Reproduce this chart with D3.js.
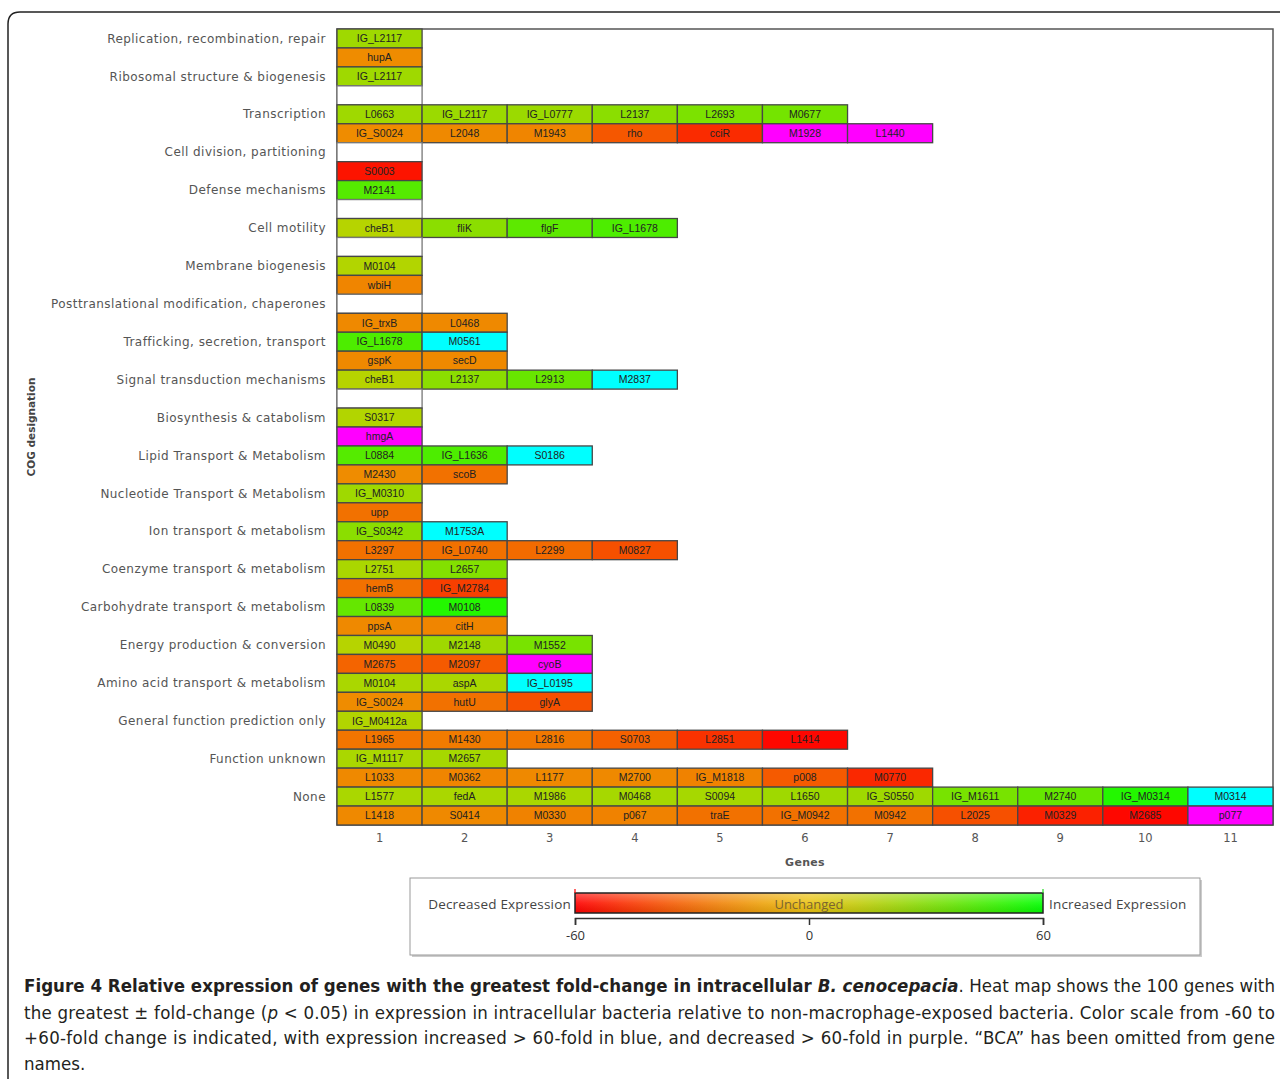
<!DOCTYPE html>
<html>
<head>
<meta charset="utf-8">
<script src="https://cdn.jsdelivr.net/npm/d3@7"></script>
<style>
  body { margin: 0; background: #fff; }
  svg { display: block; }
</style>
</head>
<body>
<script>
// COG categories, one label for every two rows of the heat map
var categories = [
  "Replication, recombination, repair",
  "Ribosomal structure & biogenesis",
  "Transcription",
  "Cell division, partitioning",
  "Defense mechanisms",
  "Cell motility",
  "Membrane biogenesis",
  "Posttranslational modification, chaperones",
  "Trafficking, secretion, transport",
  "Signal transduction mechanisms",
  "Biosynthesis & catabolism",
  "Lipid Transport & Metabolism",
  "Nucleotide Transport & Metabolism",
  "Ion transport & metabolism",
  "Coenzyme transport & metabolism",
  "Carbohydrate transport & metabolism",
  "Energy production & conversion",
  "Amino acid transport & metabolism",
  "General function prediction only",
  "Function unknown",
  "None"
];

// gene names per row (42 rows)
var geneRows = [
  ["IG_L2117"],
  ["hupA"],
  ["IG_L2117"],
  [],
  ["L0663", "IG_L2117", "IG_L0777", "L2137", "L2693", "M0677"],
  ["IG_S0024", "L2048", "M1943", "rho", "cciR", "M1928", "L1440"],
  [],
  ["S0003"],
  ["M2141"],
  [],
  ["cheB1", "fliK", "flgF", "IG_L1678"],
  [],
  ["M0104"],
  ["wbiH"],
  [],
  ["IG_trxB", "L0468"],
  ["IG_L1678", "M0561"],
  ["gspK", "secD"],
  ["cheB1", "L2137", "L2913", "M2837"],
  [],
  ["S0317"],
  ["hmgA"],
  ["L0884", "IG_L1636", "S0186"],
  ["M2430", "scoB"],
  ["IG_M0310"],
  ["upp"],
  ["IG_S0342", "M1753A"],
  ["L3297", "IG_L0740", "L2299", "M0827"],
  ["L2751", "L2657"],
  ["hemB", "IG_M2784"],
  ["L0839", "M0108"],
  ["ppsA", "citH"],
  ["M0490", "M2148", "M1552"],
  ["M2675", "M2097", "cyoB"],
  ["M0104", "aspA", "IG_L0195"],
  ["IG_S0024", "hutU", "glyA"],
  ["IG_M0412a"],
  ["L1965", "M1430", "L2816", "S0703", "L2851", "L1414"],
  ["IG_M1117", "M2657"],
  ["L1033", "M0362", "L1177", "M2700", "IG_M1818", "p008", "M0770"],
  ["L1577", "fedA", "M1986", "M0468", "S0094", "L1650", "IG_S0550", "IG_M1611", "M2740", "IG_M0314", "M0314"],
  ["L1418", "S0414", "M0330", "p067", "traE", "IG_M0942", "M0942", "L2025", "M0329", "M2685", "p077"]
];

var foldRows = [
  [19],
  [-18],
  [19],
  [],
  [19, 20, 20, 24, 28, 30],
  [-18, -19, -20, -34, -47, -75, -75],
  [],
  [-54],
  [38],
  [],
  [13, 24, 36, 40],
  [],
  [14],
  [-20],
  [],
  [-19, -19],
  [40, 75],
  [-19, -19],
  [13, 24, 33, 75],
  [],
  [14],
  [-75],
  [38, 40, 75],
  [-18, -26],
  [19],
  [-26],
  [24, 75],
  [-26, -26, -28, -36],
  [16, 26],
  [-26, -41],
  [34, 51],
  [-19, -20],
  [13, 19, 29],
  [-30, -33, -75],
  [16, 16, 75],
  [-18, -26, -36],
  [14],
  [-25, -23, -24, -31, -45, -58],
  [16, 17],
  [-19, -20, -19, -19, -21, -33, -48],
  [16, 16, 16, 17, 17, 19, 19, 29, 34, 51, 75],
  [-19, -19, -21, -21, -26, -26, -26, -36, -50, -58, -75]
];

var geneTicks = [1, 2, 3, 4, 5, 6, 7, 8, 9, 10, 11];
var legendTicks = [-60, 0, 60];

var width = 1280, height = 1079;

var svg = d3.select("body").append("svg")
    .attr("width", width)
    .attr("height", height);

var defs = svg.append("defs");

//outer figure frame (runs off the right and bottom edges)
svg.append("path")
    .attr("d", "M8,1090V24Q8,12 20,12H1295")
    .attr("fill", "none")
    .attr("stroke", "#222")
    .attr("stroke-width", 1.5);

var color = d3.scaleLinear()
    .domain([-60, 0, 60])
    .range(["#ff0000", "#e8c800", "#00ff00"])
    .clamp(true);

function cellFill(v) {
  if (v > 60) return "#00ffff";
  if (v < -60) return "#ff00ff";
  return color(v);
}

var x = d3.scaleBand()
    .domain(geneTicks)
    .range([337, 1273]);

var y = d3.scaleBand()
    .domain(d3.range(geneRows.length))
    .range([29, 825]);

// plot frame
svg.append("rect")
    .attr("x", 337).attr("y", 29)
    .attr("width", 1273 - 337).attr("height", 825 - 29)
    .attr("fill", "#fff")
    .attr("stroke", "#555")
    .attr("stroke-width", 1.5);

// flatten cells
var cells = [];
geneRows.forEach(function(row, r) {
  if (row.length === 0) {
    cells.push({row: r, col: 1, gene: "", value: null});
  }
  row.forEach(function(g, c) {
    cells.push({row: r, col: c + 1, gene: g, value: foldRows[r][c]});
  });
});

var cell = svg.append("g").attr("class", "cells")
  .selectAll("g")
  .data(cells)
  .enter().append("g");

cell.append("rect")
    .attr("x", function(d) { return x(d.col); })
    .attr("y", function(d) { return y(d.row); })
    .attr("width", x.bandwidth())
    .attr("height", y.bandwidth())
    .attr("fill", function(d) { return d.value === null ? "#fff" : cellFill(d.value); })
    .attr("stroke", function(d) { return d.value === null ? "#777" : "#474747"; })
    .attr("stroke-width", 1.3);

cell.append("text")
    .attr("x", function(d) { return x(d.col) + x.bandwidth() / 2; })
    .attr("y", function(d) { return y(d.row) + y.bandwidth() / 2; })
    .attr("dy", "0.36em")
    .attr("text-anchor", "middle")
    .attr("font-family", "'Liberation Sans', Arial, sans-serif")
    .attr("font-size", "10.5px")
    .attr("fill", "#222")
    .text(function(d) { return d.gene; });

// category labels
svg.append("g").selectAll("text")
    .data(categories)
    .enter().append("text")
    .attr("x", 326)
    .attr("y", function(d, i) { return y(i * 2) + y.bandwidth() / 2; })
    .attr("dy", "0.35em")
    .attr("text-anchor", "end")
    .attr("font-family", "'DejaVu Sans', Verdana, sans-serif")
    .attr("font-size", "12px")
    .attr("letter-spacing", "0.45px")
    .attr("fill", "#555")
    .text(function(d) { return d; });

svg.append("text")
    .attr("transform", "translate(35,427) rotate(-90)")
    .attr("text-anchor", "middle")
    .attr("font-family", "'DejaVu Sans', Verdana, sans-serif")
    .attr("font-weight", "bold")
    .attr("font-size", "10.5px")
    .attr("fill", "#444")
    .text("COG designation");

// gene column axis
var xAxis = svg.append("g")
    .attr("transform", "translate(0,830)")
    .call(d3.axisBottom(x).tickSize(0).tickPadding(4));
xAxis.select(".domain").remove();
xAxis.selectAll("text")
    .attr("font-family", "'DejaVu Sans', Verdana, sans-serif")
    .attr("font-size", "11.5px")
    .attr("fill", "#555");

svg.append("text")
    .attr("x", 805).attr("y", 866)
    .attr("text-anchor", "middle")
    .attr("font-family", "'DejaVu Sans', Verdana, sans-serif")
    .attr("font-weight", "bold")
    .attr("font-size", "11px")
    .attr("letter-spacing", "0.3px")
    .attr("fill", "#555")
    .text("Genes");

// legend box
svg.append("rect")
    .attr("x", 412).attr("y", 880).attr("width", 790).attr("height", 77)
    .attr("fill", "#ccc");
svg.append("rect")
    .attr("x", 410).attr("y", 878).attr("width", 790).attr("height", 77)
    .attr("fill", "#fff")
    .attr("stroke", "#999")
    .attr("stroke-width", 1);

var lx = d3.scaleLinear().domain([-60, 60]).range([575, 1043]);

var grad = defs.append("linearGradient").attr("id", "scaleGrad");
grad.selectAll("stop")
    .data(d3.range(0, 1.0001, 0.1))
    .enter().append("stop")
    .attr("offset", function(d) { return d; })
    .attr("stop-color", function(d) {
      return d3.interpolateRgb(color(-60 + d * 120), "#f0b040")(0.25 * (1 - Math.abs(d - 0.5) * 2));
    });

var gloss = defs.append("linearGradient").attr("id", "gloss")
    .attr("x1", 0).attr("y1", 0).attr("x2", 0).attr("y2", 1);
gloss.append("stop").attr("offset", 0).attr("stop-color", "#fff").attr("stop-opacity", 0.35);
gloss.append("stop").attr("offset", 0.5).attr("stop-color", "#fff").attr("stop-opacity", 0.1);
gloss.append("stop").attr("offset", 1).attr("stop-color", "#000").attr("stop-opacity", 0.08);

svg.append("rect")
    .attr("x", lx(-60)).attr("y", 893)
    .attr("width", lx(60) - lx(-60)).attr("height", 20)
    .attr("fill", "url(#scaleGrad)");
svg.append("rect")
    .attr("x", lx(-60)).attr("y", 893)
    .attr("width", lx(60) - lx(-60)).attr("height", 20)
    .attr("fill", "url(#gloss)")
    .attr("stroke", "#222")
    .attr("stroke-width", 1.5);

// tiny end markers on the bar
svg.append("line").attr("x1", lx(-60)).attr("x2", lx(-60)).attr("y1", 889).attr("y2", 893)
    .attr("stroke", "#f00").attr("stroke-width", 1.2);
svg.append("line").attr("x1", lx(60)).attr("x2", lx(60)).attr("y1", 889).attr("y2", 893)
    .attr("stroke", "#2d2").attr("stroke-width", 1.2);

var legFont = "'Open Sans', sans-serif";

svg.append("text")
    .attr("x", lx(0)).attr("y", 904).attr("dy", "0.35em")
    .attr("text-anchor", "middle")
    .attr("font-family", legFont)
    .attr("font-size", "13px")
    .attr("fill", "#7a6430")
    .text("Unchanged");

svg.append("text")
    .attr("x", 571).attr("y", 904).attr("dy", "0.35em")
    .attr("text-anchor", "end")
    .attr("font-family", legFont)
    .attr("font-size", "13.5px")
    .attr("letter-spacing", "0.2px")
    .attr("fill", "#444")
    .text("Decreased Expression");

svg.append("text")
    .attr("x", 1049).attr("y", 904).attr("dy", "0.35em")
    .attr("font-family", legFont)
    .attr("font-size", "13.5px")
    .attr("letter-spacing", "0.2px")
    .attr("fill", "#444")
    .text("Increased Expression");

var lAxis = svg.append("g")
    .attr("transform", "translate(0,918)")
    .call(d3.axisBottom(lx)
      .tickValues(legendTicks)
      .tickFormat(function(d) { return String(d); })
      .tickSize(7).tickSizeOuter(7).tickPadding(6));
lAxis.selectAll("path, line").attr("stroke", "#333").attr("stroke-width", 1.5);
lAxis.selectAll("text")
    .attr("font-family", legFont)
    .attr("font-size", "13px")
    .attr("fill", "#333");

// caption, justified lines
var capFont = "'Liberation Sans Narrow', 'DejaVu Sans Condensed', 'Liberation Sans', sans-serif";
var capLines = [
  [["Figure 4 Relative expression of genes with the greatest fold-change in intracellular ", "bold", "normal"],
   ["B. cenocepacia", "bold", "italic"],
   [". Heat map shows the 100 genes with", "normal", "normal"]],
  [["the greatest ", "normal", "normal"], ["±", "normal", "normal"],
   [" fold-change (", "normal", "normal"], ["p", "normal", "italic"],
   [" < 0.05) in expression in intracellular bacteria relative to non-macrophage-exposed bacteria. Color scale from -60 to", "normal", "normal"]],
  [["+60-fold change is indicated, with expression increased > 60-fold in blue, and decreased > 60-fold in purple. \u201cBCA\u201d has been omitted from gene", "normal", "normal"]],
  [["names.", "normal", "normal"]]
];
var capY = [992, 1019, 1044, 1070];

capLines.forEach(function(parts, i) {
  var t = svg.append("text")
      .attr("x", 24).attr("y", capY[i])
      .attr("font-family", capFont)
      .attr("font-size", "18.5px")
      .attr("fill", "#231f20");
  if (i < 3) {
    t.attr("textLength", 1251).attr("lengthAdjust", "spacing");
  }
  parts.forEach(function(p) {
    t.append("tspan")
        .attr("font-weight", p[1])
        .attr("font-style", p[2])
        .text(p[0]);
  });
});
</script>
</body>
</html>
